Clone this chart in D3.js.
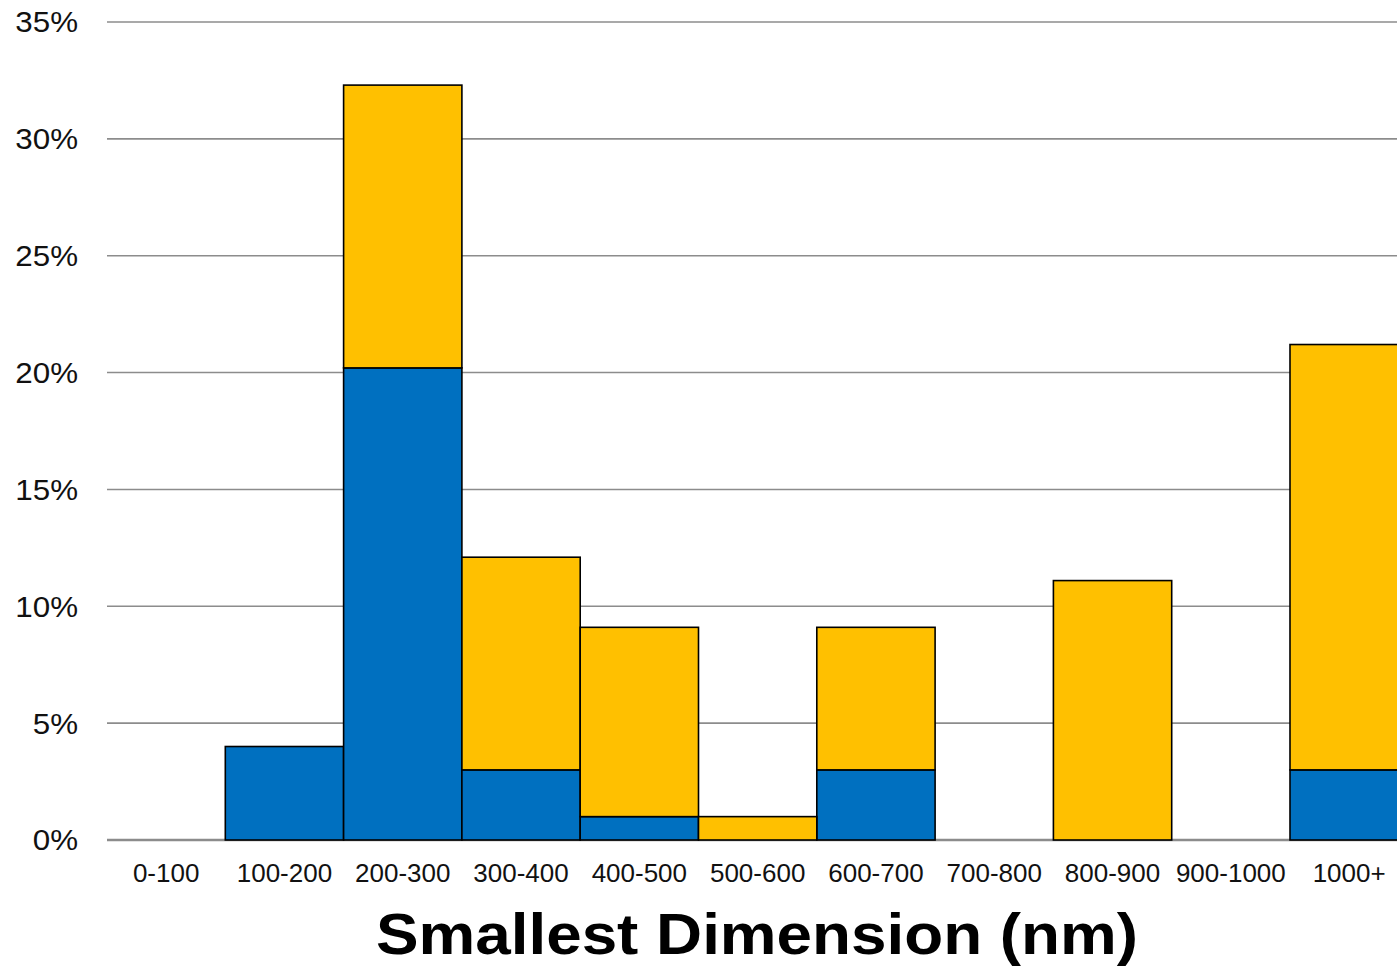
<!DOCTYPE html>
<html>
<head>
<meta charset="utf-8">
<script src="https://cdn.jsdelivr.net/npm/d3@7"></script>
<style>
  html, body { margin: 0; padding: 0; background: #fff; overflow: hidden; }
  svg { display: block; font-family: "Liberation Sans", Arial, Helvetica, sans-serif; }
</style>
</head>
<body>
<div id="chart"></div>
<script>
// categories and stacked values (percent)
const categories = ["0-100", "100-200", "200-300", "300-400", "400-500", "500-600",
                    "600-700", "700-800", "800-900", "900-1000", "1000+"]
const blueValues   = [0, 4.0, 20.2, 3.0, 1.0, 0, 3.0, 0, 0, 0, 3.0]
const yellowValues = [0, 0, 12.1, 9.1, 8.1, 1.0, 6.1, 0, 11.1, 0, 18.2]
const yTicks = [0, 5, 10, 15, 20, 25, 30, 35]
const xTitle = "Smallest Dimension (nm)"

const width = 1397, height = 967
const margin = { top: 22, left: 107, bottom: 127 }
const bandW = 118.3

const svg = d3.select("#chart").append("svg")
    .attr("width", width)
    .attr("height", height)

const x = d3.scaleBand()
    .domain(categories)
    .range([margin.left, margin.left + bandW * categories.length])
    .padding(0)

const y = d3.scaleLinear()
    .domain([0, 35])
    .range([height - margin.bottom, margin.top])

/* GRIDLINES */
svg.append("g")
    .selectAll("line")
    .data(yTicks)
    .join("line")
    .attr("x1", margin.left)
    .attr("x2", width)
    .attr("y1", d => y(d))
    .attr("y2", d => y(d))
    .style("stroke", "#8c8c8c")
    .style("stroke-width", d => d === 0 ? 2.5 : 1.6)

/* Y LABELS */
svg.append("g")
    .selectAll("text")
    .data(yTicks)
    .join("text")
    .attr("transform", d => `translate(78,${y(d)}) scale(1.08,1)`)
    .attr("dy", "0.36em")
    .attr("text-anchor", "end")
    .style("font-size", "29px")
    .style("fill", "#111")
    .text(d => d + "%")

/* STACKED BARS */
const table = categories.map((c, i) => ({ cat: c, blue: blueValues[i], yellow: yellowValues[i] }))
const stack = d3.stack().keys(["blue", "yellow"])(table)
const colors = { blue: "#0070C0", yellow: "#FFC000" }

svg.append("g")
    .selectAll("g")
    .data(stack)
    .join("g")
    .style("fill", s => colors[s.key])
    .selectAll("rect")
    .data(s => s.filter(d => d[1] - d[0] > 0))
    .join("rect")
    .attr("x", d => x(d.data.cat))
    .attr("width", x.bandwidth())
    .attr("y", d => y(d[1]))
    .attr("height", d => y(d[0]) - y(d[1]))
    .style("stroke", "#000")
    .style("stroke-width", 1.6)

/* X LABELS */
svg.append("g")
    .selectAll("text")
    .data(categories)
    .join("text")
    .attr("x", d => x(d) + x.bandwidth() / 2)
    .attr("y", 882)
    .attr("text-anchor", "middle")
    .style("font-size", "26px")
    .style("fill", "#111")
    .text(d => d)

/* X TITLE */
svg.append("text")
    .attr("transform", "translate(757,954) scale(1.1,1)")
    .attr("text-anchor", "middle")
    .style("font-size", "58px")
    .style("font-weight", "bold")
    .style("fill", "#000")
    .text(xTitle)
</script>
</body>
</html>
